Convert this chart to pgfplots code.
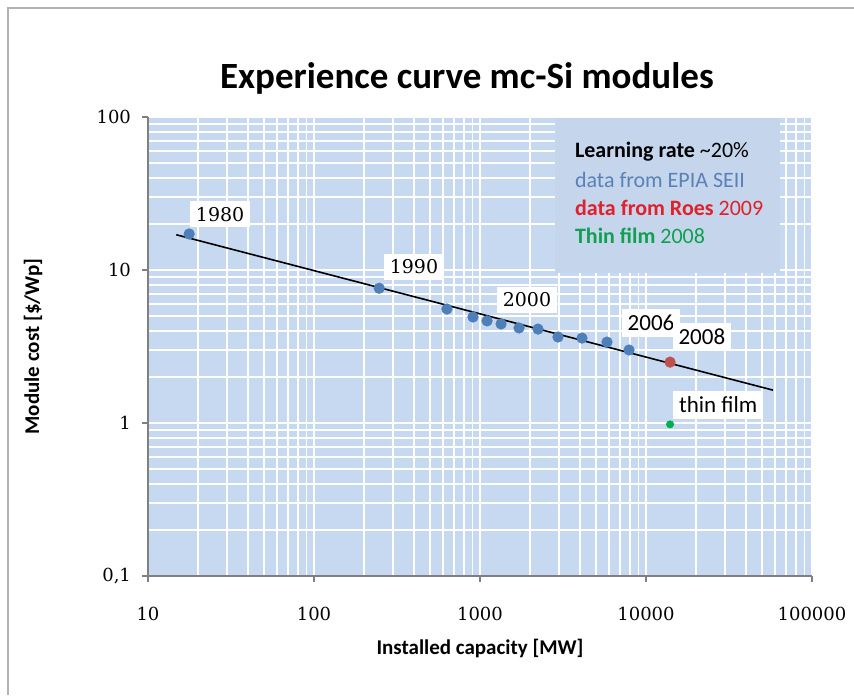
\documentclass[border=0pt]{standalone}
\usepackage{pgfplots}
\pgfplotsset{compat=1.18}
\usepackage{fontspec}
\setmainfont{Carlito}
\newfontfamily\tickfont{DejaVu Serif}
\definecolor{bgblue}{HTML}{C6D9F0}
\definecolor{boxblue}{HTML}{C4D5EC}
\definecolor{ptblue}{HTML}{4F7FB8}
\definecolor{ptred}{HTML}{C0504D}
\definecolor{ptgreen}{HTML}{00B050}
\definecolor{txtblue}{HTML}{5A82B8}
\definecolor{txtred}{HTML}{E0202A}
\definecolor{txtgreen}{HTML}{10A050}
\begin{document}
\begin{tikzpicture}
\useasboundingbox (0,0) rectangle (427pt,347.5pt);
\begin{axis}[
  at={(74pt,59.5pt)}, anchor=south west,
  scale only axis, width=332pt, height=229.5pt,
  xmode=log, ymode=log,
  xmin=10, xmax=100000, ymin=0.1, ymax=100,
  axis background/.style={fill=bgblue},
  grid=both,
  major grid style={white, line width=1pt},
  minor grid style={white, line width=0.8pt},
  axis x line*=bottom, axis y line*=left,
  axis line style={gray, line width=0.6pt, -},
  tick align=outside, major tick length=3pt, minor tick length=0pt,
  tick style={gray, line width=0.6pt},
  xtick={10,100,1000,10000,100000},
  xticklabels={10,100,1000,10000,100000},
  minor xtick={20,30,40,50,60,70,80,90,200,300,400,500,600,700,800,900,2000,3000,4000,5000,6000,7000,8000,9000,20000,30000,40000,50000,60000,70000,80000,90000},
  ytick={0.1,1,10,100},
  yticklabels={{0,1},1,10,100},
  minor ytick={0.2,0.3,0.4,0.5,0.6,0.7,0.8,0.9,2,3,4,5,6,7,8,9,20,30,40,50,60,70,80,90},
  ticklabel style={font=\tickfont\fontsize{9}{10}\selectfont, black},
  xticklabel style={yshift=-9pt},
  yticklabel style={xshift=-2pt},
  xlabel={Installed capacity [MW]},
  xlabel style={font=\bfseries\fontsize{10.5}{12}\selectfont, at={(axis description cs:0.5,-0.157)}, anchor=center},
  ylabel={Module cost [\$/Wp]},
  ylabel style={font=\bfseries\fontsize{10.5}{12}\selectfont, at={(axis description cs:-0.173,0.5)}, anchor=center},
  clip=false,
]
\addplot[only marks, mark=*, mark size=2.6pt, mark options={draw=ptblue, fill=ptblue}] coordinates {
  (17.7,17.2) (247,7.6) (632,5.56) (907,4.93) (1103,4.65) (1339,4.44)
  (1718,4.18) (2236,4.11) (2949,3.65) (4115,3.59) (5821,3.38) (7907,3.00)
};
\addplot[only marks, mark=*, mark size=2.6pt, mark options={draw=ptred, fill=ptred}] coordinates {(13960,2.50)};
\addplot[only marks, mark=*, mark size=1.8pt, mark options={draw=ptgreen, fill=ptgreen}] coordinates {(13960,0.98)};
\addplot[black, line width=0.8pt] coordinates {(14.8,17.0) (58200,1.64)};
\node[fill=white, inner sep=3pt, font=\tickfont\fontsize{9.5}{11}\selectfont] at (axis cs:27.2,23.2) {1980};
\node[fill=white, inner sep=3pt, font=\tickfont\fontsize{9.5}{11}\selectfont] at (axis cs:400,10.46) {1990};
\node[fill=white, inner sep=3pt, font=\tickfont\fontsize{9.5}{11}\selectfont] at (axis cs:1919,6.37) {2000};
\node[fill=white, inner sep=3pt, font=\fontsize{11.5}{12}\selectfont] at (axis cs:10720,4.51) {2006};
\node[fill=white, inner sep=3pt, font=\fontsize{11.5}{12}\selectfont] at (axis cs:21700,3.65) {2008};
\node[fill=white, inner sep=3pt, font=\fontsize{11.5}{12}\selectfont] at (axis cs:27200,1.31) {thin film};
\end{axis}
\begin{scope}[x=0.5pt, y=-0.5pt, shift={(0,347.5pt)}]
\draw[gray!60, line width=0.7pt] (8,695) -- (8,8) -- (854,8);
\node[font=\bfseries\fontsize{18.5}{20}\selectfont] at (467,78) {Experience curve mc-Si modules};
\fill[boxblue] (555,118) rectangle (780,273);
\node[anchor=west, font=\fontsize{11}{12}\selectfont] at (568,152) {\textbf{Learning rate} \textasciitilde20\%};
\node[anchor=west, font=\fontsize{11}{12}\selectfont, text=txtblue] at (568,180) {data from EPIA SEII};
\node[anchor=west, font=\fontsize{11}{12}\selectfont, text=txtred] at (568,208) {\textbf{data from Roes} 2009};
\node[anchor=west, font=\fontsize{11}{12}\selectfont, text=txtgreen] at (568,236) {\textbf{Thin film} 2008};
\end{scope}
\end{tikzpicture}
\end{document}
